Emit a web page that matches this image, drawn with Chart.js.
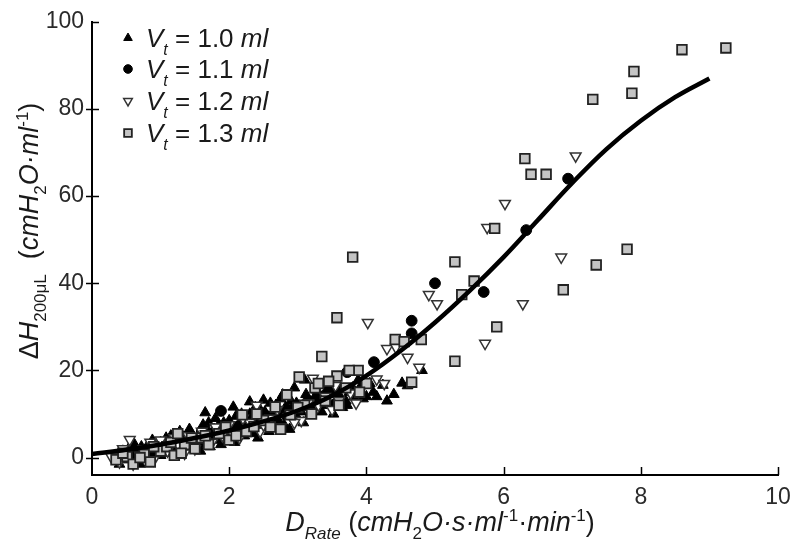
<!DOCTYPE html>
<html>
<head>
<meta charset="utf-8">
<script src="https://cdn.jsdelivr.net/npm/chart.js@4.4.0/dist/chart.umd.min.js"></script>
<style>
  html, body { margin: 0; padding: 0; background: #fff; }
  .chartBox { width: 800px; height: 555px; position: relative; }
</style>
</head>
<body>
<div class="chartBox"><canvas id="myChart"></canvas></div>
<script>
// axis ticks
const xTicks = [0, 2, 4, 6, 8, 10]
const yTicks = [0, 20, 40, 60, 80, 100]

// Vt = 1.0 ml  (filled triangles)
const vt10 = [[0.45,1.5],[0.6,0.5],[0.7,-1.5],[0.8,2.5],[0.9,1],[1.0,3.5],[1.05,2],[1.15,4],[1.2,1.5],[1.3,5],
  [1.35,3],[1.45,5.5],[1.5,2.5],[1.6,6.5],[1.65,4],[1.7,8],[1.75,5.5],[1.85,7.5],[1.9,4.5],[2.0,8.5],
  [2.05,6],[2.1,9.5],[2.2,7],[2.3,10],[2.35,5.5],[2.45,11],[2.5,8],[2.6,12.5],[2.7,9],[2.75,13.5],
  [2.8,7.5],[2.9,11],[2.95,16],[3.0,9],[3.1,17.8],[3.15,12],[3.25,14],[3.35,10.5],[3.45,16],[3.55,13],
  [3.65,11.5],[3.75,15],[3.88,17.8],[3.95,13.5],[4.1,15],[4.24,16.6],[4.3,13],[4.4,14.5],[4.52,17.1],[4.6,16.5],[4.81,20],
  [0.35,0.5],[0.5,-0.5],[0.55,2.5],[0.65,1.5],[0.75,0],[0.85,3],[0.95,2],[1.0,0.5],[1.1,2.5],[1.15,5],
  [1.25,3.5],[1.3,1.5],[1.4,4],[1.45,2],[1.55,5],[1.6,3],[1.7,6],[1.8,4],[1.8,9],[1.95,6.5],
  [2.0,4.5],[2.1,5.5],[2.15,8],[2.25,6.5],[2.3,8.5],[2.4,7],[2.55,9.5],[2.6,7.5],[2.65,10.5],[2.85,9.5],
  [2.9,13],[3.05,10.5],[3.2,11.5],[3.3,13],[3.4,15],[3.5,12],[3.6,14.5],[3.7,13],[3.8,16],[3.9,15.5],
  [4.0,14],[1.65,10.3],[2.3,12.8],[2.5,13.2],[2.78,14.4],[2.06,11.6],
  [0.4,-1.5],[0.55,0],[0.62,3],[0.72,2.5],[0.82,0.5],[0.88,4],[0.98,1],[1.08,4.5],[1.12,1],[1.22,2.5],
  [1.28,6],[1.38,2],[1.42,6.5],[1.52,3.5],[1.58,1.5],[1.62,7.5],[1.72,2.5],[1.78,6.5],[1.88,3],[1.92,8],
  [2.02,7],[2.08,3.5],[2.18,10],[2.22,5],[2.28,7.5],[2.38,11.5],[2.42,4.5],[2.52,10.5],[2.58,6],[2.68,12],
  [2.72,8],[2.82,11.5],[2.88,6.5],[2.98,12.5],[3.08,8],[3.12,14.5],[3.18,10],[3.28,15.5],[3.38,12],[3.48,17],
  [3.52,10],[3.62,16],[3.72,12],[3.82,14],[3.92,16.5],[4.05,17],[4.15,14]]

// Vt = 1.1 ml  (filled circles)
const vt11 = [[0.5,0.5],[0.8,1.5],[1.1,3.5],[1.4,4.5],[1.6,6],[1.88,10.7],[2.1,7],[2.4,9],[2.7,10.5],[3.0,12],
  [3.3,14],[3.5,15.5],[3.72,19.6],[4.11,21.9],[4.66,28.5],[4.66,31.4],[5.0,40],[5.71,38],[6.33,52.2],[6.94,64],
  [0.65,0],[0.95,2],[1.25,3],[1.8,5],[2.25,8],[2.55,9.5],[2.85,11],[3.15,13]]

// Vt = 1.2 ml  (open down triangles)
const vt12 = [[0.28,0.2],[0.4,-1],[0.55,4.1],[0.6,-1.5],[0.75,2],[0.9,-0.5],[1.0,4],[1.1,1.5],[1.25,3],[1.4,5],
  [1.5,2],[1.6,6],[1.75,3.5],[1.9,5],[2.0,7.5],[2.15,4.5],[2.3,8],[2.45,6],[2.6,9],[2.75,7],
  [2.9,10],[3.05,8.5],[3.22,18.2],[3.3,12],[3.5,11],[3.6,13],[3.77,14.8],[3.85,12.5],[4.02,31],[4.15,18],
  [4.26,17],[4.3,25],[4.43,25.3],[4.6,23],[4.77,20.7],[4.91,37.4],[5.03,35.3],[5.73,26.2],[5.76,52.8],[6.02,58.3],
  [6.28,35.3],[6.84,46],[7.05,69.2],
  [0.45,2],[0.7,0.5],[0.85,3.5],[1.2,4.5],[1.35,1],[1.65,4.5],[1.8,7],[2.05,5.5],[2.2,9],[2.5,7.5],
  [2.7,11],[2.95,8],[3.15,12.5],[3.4,14],[3.55,16.5],[1.0,2.5],[2.4,12]]

// Vt = 1.3 ml  (grey squares)
const vt13 = [[0.35,-0.5],[0.51,0.2],[0.6,-1.5],[0.76,0.7],[0.85,-1],[1.0,1.5],[1.09,2.5],[1.2,0.5],[1.35,3],[1.5,2],
  [1.6,4.5],[1.7,3],[1.85,5.5],[2.0,4],[2.19,9.8],[2.25,6],[2.36,7.1],[2.5,8.5],[2.67,11.6],[2.75,6.5],
  [2.84,14.4],[2.89,9.8],[3.02,18.5],[3.1,12],[3.2,10],[3.35,23.2],[3.4,13],[3.57,18.7],[3.57,32.1],[3.7,16],
  [3.8,46],[3.88,20],[4.0,17],[4.42,27.1],[4.55,26.6],[4.66,17.3],[4.8,27.1],[5.29,22.1],[5.29,44.9],[5.39,37.4],
  [5.57,40.5],[5.87,52.6],[5.9,30],[6.31,68.6],[6.4,65],[6.62,65],[6.87,38.5],[7.3,82.2],[7.35,44.2],[7.8,47.8],
  [7.87,83.6],[7.9,88.6],[8.6,93.6],[9.24,94],
  [0.45,1],[0.7,0],[0.9,2.5],[1.15,3.5],[1.3,1],[1.45,4.5],[1.65,5],[1.95,7],[2.1,5],[2.4,10],
  [2.6,7],[3.0,11.5],[3.25,16],[3.45,17.5],[3.3,17],[3.6,12],[3.9,15],[3.75,20],[1.25,5.5]]

// fitted curve
const fitX = [0, 0.5, 1, 1.5, 2, 2.5, 3, 3.5, 4, 4.5, 5, 5.5, 6, 6.5, 7, 7.5, 8, 8.5, 9]
const fitY = [0.8, 1.8, 3, 4.5, 6.2, 8.3, 10.8, 14.2, 18.8, 24.5, 31, 38.2, 46, 54.5, 63, 70.8, 77.3, 82.7, 87]

const FONT = '"Liberation Sans", Arial, Helvetica, sans-serif'
const toPts = arr => arr.map(p => ({x: p[0], y: p[1]}))

const series = [
  {label: '1.0', data: vt10, pointStyle: 'triangle', rotation: 0, radius: 6.2, bg: '#000', border: '#000', bw: 1, order: 5},
  {label: '1.1', data: vt11, pointStyle: 'circle', rotation: 0, radius: 5.4, bg: '#000', border: '#000', bw: 1, order: 4},
  {label: '1.2', data: vt12, pointStyle: 'triangle', rotation: 180, radius: 6.2, bg: '#fff', border: '#333', bw: 1.5, order: 3},
  {label: '1.3', data: vt13, pointStyle: 'rect', rotation: 0, radius: 6.8, bg: '#c4c4c4', border: '#222', bw: 1.8, order: 2},
]

// rich text helper: runs of {t, i, sub, sup}
function drawRich(ctx, runs, x, y, size, measureOnly) {
  let w = 0
  runs.forEach(r => {
    const s = (r.sub || r.sup) ? Math.round(size * 0.62) : size
    ctx.font = (r.i ? 'italic ' : '') + s + 'px ' + FONT
    const dy = r.sub ? size * 0.3 : r.sup ? -size * 0.38 : 0
    if (!measureOnly) ctx.fillText(r.t, x + w, y + dy)
    w += ctx.measureText(r.t).width
  })
  return w
}

const yTitle = [{t: 'Δ'}, {t: 'H', i: 1}, {t: '200μL', sub: 1}, {t: '  ('}, {t: 'cmH', i: 1}, {t: '2', sub: 1},
  {t: 'O·', i: 1}, {t: 'ml', i: 1}, {t: '-1', sup: 1}, {t: ')'}]
const xTitle = [{t: 'D', i: 1}, {t: 'Rate', sub: 1, i: 1}, {t: ' ('}, {t: 'cmH', i: 1}, {t: '2', sub: 1},
  {t: 'O·s·', i: 1}, {t: 'ml', i: 1}, {t: '-1', sup: 1}, {t: '·'}, {t: 'min', i: 1}, {t: '-1', sup: 1}, {t: ')'}]

const decorations = {
  id: 'decorations',
  afterDraw(chart) {
    const {ctx, chartArea: {left, bottom}, scales: {x, y}} = chart
    ctx.save()
    // tick marks
    ctx.strokeStyle = '#000'
    ctx.lineWidth = 1.5
    yTicks.forEach(v => {
      const py = Math.round(y.getPixelForValue(v)) + 0.5
      ctx.beginPath()
      ctx.moveTo(v === 100 ? left : left - 6, py)
      ctx.lineTo(left + 7, py)
      ctx.stroke()
    })
    xTicks.slice(1).forEach(v => {
      const px = Math.round(x.getPixelForValue(v)) + 0.5
      ctx.beginPath()
      ctx.moveTo(px, bottom)
      ctx.lineTo(px, bottom - 8)
      ctx.stroke()
    })

    // axis titles
    ctx.fillStyle = '#1a1a1a'
    ctx.textBaseline = 'alphabetic'
    ctx.textAlign = 'left'
    const size = 27
    const wx = drawRich(ctx, xTitle, 0, 0, size, true)
    drawRich(ctx, xTitle, 440 - wx / 2, 531, size)

    const wy = drawRich(ctx, yTitle, 0, 0, size, true)
    ctx.translate(38, 231)
    ctx.rotate(-Math.PI / 2)
    drawRich(ctx, yTitle, -wy / 2, 0, size)
    ctx.setTransform(1, 0, 0, 1, 0, 0)

    // legend
    const rows = [38, 69, 101, 133]
    series.forEach((s, k) => {
      const ry = rows[k]
      ctx.fillStyle = s.bg
      ctx.strokeStyle = s.border
      ctx.lineWidth = s.bw
      Chart.helpers.drawPoint(ctx, {pointStyle: s.pointStyle, rotation: s.rotation, radius: s.radius * 0.8, borderWidth: s.bw}, 128, ry)
      ctx.fillStyle = '#1a1a1a'
      drawRich(ctx, [{t: 'V', i: 1}, {t: 't', sub: 1, i: 1}, {t: ' = ' + s.label + ' '}, {t: 'ml', i: 1}], 146, ry + 9, 26)
    })
    ctx.restore()
  }
}

const datasets = series.map(s => ({
  type: 'scatter',
  data: toPts(s.data),
  pointStyle: s.pointStyle,
  rotation: s.rotation,
  pointRadius: s.radius,
  backgroundColor: s.bg,
  borderColor: s.border,
  borderWidth: s.bw,
  order: s.order,
  clip: false
}))
datasets.push({
  type: 'line',
  data: fitX.map((v, i) => ({x: v, y: fitY[i]})),
  borderColor: '#000',
  borderWidth: 4.5,
  pointRadius: 0,
  tension: 0.4,
  fill: false,
  order: 1
})

const config = {
  type: 'scatter',
  data: {datasets},
  options: {
    responsive: true,
    maintainAspectRatio: false,
    animation: false,
    layout: {padding: {top: 19, right: 22, left: 0, bottom: 0}},
    plugins: {legend: {display: false}, tooltip: {enabled: false}},
    scales: {
      x: {
        type: 'linear', min: 0, max: 10,
        afterBuildTicks: sc => { sc.ticks = xTicks.map(v => ({value: v})) },
        afterFit: sc => { sc.height = 80 },
        grid: {display: false, drawTicks: false},
        border: {display: true, color: '#000', width: 2},
        ticks: {padding: 9, color: '#2a2a2a', font: {family: FONT, size: 23}, maxRotation: 0}
      },
      y: {
        type: 'linear', min: -4, max: 100,
        afterBuildTicks: sc => { sc.ticks = yTicks.map(v => ({value: v})) },
        afterFit: sc => { sc.width = 92 },
        grid: {display: false, drawTicks: false},
        border: {display: true, color: '#000', width: 2},
        ticks: {padding: 8, color: '#2a2a2a', font: {family: FONT, size: 23}}
      }
    }
  },
  plugins: [decorations]
}

new Chart(document.getElementById('myChart'), config)
</script>
</body>
</html>
